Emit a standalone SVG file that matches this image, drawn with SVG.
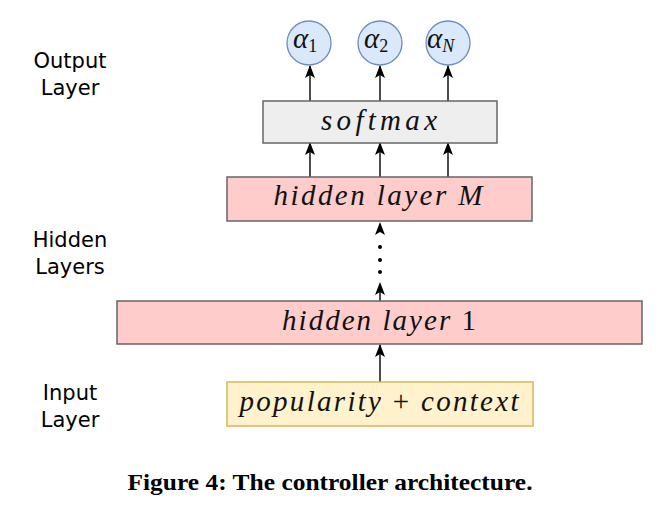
<svg xmlns="http://www.w3.org/2000/svg" width="662" height="528" viewBox="0 0 662 528">
<style>
.lbl{font-family:"DejaVu Sans","Verdana",sans-serif;font-size:21px;fill:#000;text-anchor:middle}
.math{font-family:"Liberation Serif","DejaVu Serif",serif;font-style:italic;font-size:29px;fill:#111;text-anchor:middle}
.up{font-style:normal}
.greek{font-family:"Liberation Serif","DejaVu Serif",serif;font-style:italic;font-size:29px;fill:#111}
.sub{font-size:18px}
.circ{fill:#dae8fc;stroke:#6c8ebf;stroke-width:1.3}
.soft{fill:#eeeeee;stroke:#666666;stroke-width:1.5}
.hid{fill:#ffcccc;stroke:#666666;stroke-width:1.5}
.inp{fill:#fff2cc;stroke:#d6b656;stroke-width:1.5}
.edge{stroke:#000;stroke-width:1.4;fill:none;marker-end:url(#arr)}
.cap{font-family:"Liberation Serif","Times New Roman",serif;font-weight:bold;font-size:23px;fill:#000;text-anchor:middle}
</style>
<defs>
<marker id="arr" markerUnits="userSpaceOnUse" markerWidth="13" markerHeight="10" viewBox="0 0 13 10" refX="12" refY="5" orient="auto">
<path d="M0,0 L13,5 L0,10 L3,5 Z" fill="#000"/>
</marker>
<path id="head" d="M0,0 L-5,13 L0,10 L5,13 Z" fill="#000"/>
</defs>
<rect width="662" height="528" fill="#fff"/>

<g id="labels">
<text class="lbl" x="70" y="68">Output</text>
<text class="lbl" x="70" y="95">Layer</text>
<text class="lbl" x="70" y="247">Hidden</text>
<text class="lbl" x="70" y="274">Layers</text>
<text class="lbl" x="70" y="400">Input</text>
<text class="lbl" x="70" y="427">Layer</text>
</g>

<g id="connectors">
<line class="edge" x1="310" y1="101" x2="310" y2="66"/>
<line class="edge" x1="380" y1="101" x2="380" y2="66"/>
<line class="edge" x1="448" y1="101" x2="448" y2="66"/>
<line class="edge" x1="310" y1="177" x2="310" y2="143"/>
<line class="edge" x1="380" y1="177" x2="380" y2="143"/>
<line class="edge" x1="448" y1="177" x2="448" y2="143"/>
<line class="edge" x1="380" y1="382" x2="380" y2="345"/>
<g id="dotted">
<line x1="380" y1="301" x2="380" y2="290" stroke="#000" stroke-width="1.4"/>
<use href="#head" x="380" y="282"/>
<circle cx="380" cy="272" r="2" fill="#000"/>
<circle cx="380" cy="260" r="2" fill="#000"/>
<circle cx="380" cy="247" r="2" fill="#000"/>
<use href="#head" x="380" y="222"/>
</g>
</g>

<g id="alpha1">
<circle class="circ" cx="309" cy="43" r="22"/>
<text class="greek" x="293" y="48">α<tspan class="sub up" dy="4">1</tspan></text>
</g>
<g id="alpha2">
<circle class="circ" cx="380" cy="43" r="22"/>
<text class="greek" x="364" y="48">α<tspan class="sub up" dy="4">2</tspan></text>
</g>
<g id="alphaN">
<circle class="circ" cx="448" cy="43" r="22"/>
<text class="greek" x="427" y="48">α<tspan class="sub" dy="4">N</tspan></text>
</g>

<g id="softmax">
<rect class="soft" x="263" y="101" width="234" height="42"/>
<text class="math" x="379" y="130" textLength="116" lengthAdjust="spacing">softmax</text>
</g>

<g id="hiddenM">
<rect class="hid" x="227" y="177" width="305" height="44"/>
<text class="math" x="378" y="205" textLength="209" lengthAdjust="spacing">hidden layer M</text>
</g>

<g id="hidden1">
<rect class="hid" x="117" y="301" width="525" height="43"/>
<text class="math" x="379" y="330" textLength="194" lengthAdjust="spacing">hidden layer <tspan class="up">1</tspan></text>
</g>

<g id="input">
<rect class="inp" x="227" y="382" width="306" height="44"/>
<text class="math" x="379" y="411" textLength="279" lengthAdjust="spacing">popularity <tspan class="up">+</tspan> context</text>
</g>

<g id="caption">
<text class="cap" x="330" y="490" textLength="405" lengthAdjust="spacingAndGlyphs">Figure 4: The controller architecture.</text>
</g>
</svg>
